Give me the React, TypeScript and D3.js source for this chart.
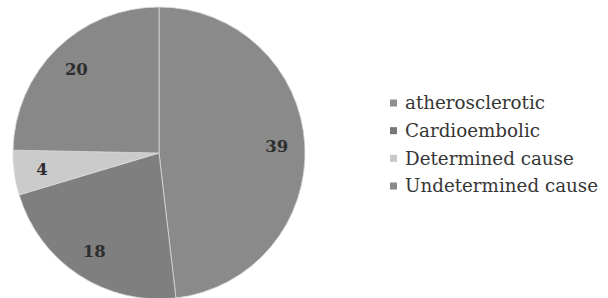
import React from "react";
import * as d3 from "d3";

const categories = ["atherosclerotic", "Cardioembolic", "Determined cause", "Undetermined cause"];
const values = [39, 18, 4, 20];
const sliceColors = ["#8a8a8a", "#7f7f7f", "#cbcbcb", "#888888"];
const legendColors = ["#8e8e8e", "#777777", "#c8c8c8", "#8a8a8a"];

export default function App() {
  const W = 608, H = 298;
  const cx = 159, cy = 153, R = 146;
  const pie = d3.pie<number>().sort(null).value((d) => d);
  const arcs = pie(values);
  const arc = d3.arc<d3.PieArcDatum<number>>().innerRadius(0).outerRadius(R);
  const labelArc = d3.arc<d3.PieArcDatum<number>>().innerRadius(118).outerRadius(118);
  const legendY = d3.scaleLinear().domain([0, 3]).range([103, 186]);
  return (
    <svg width={W} height={H} style={{ position: "absolute", left: 0, top: 0, background: "#fff" }}>
      <g transform={`translate(${cx},${cy})`}>
        {arcs.map((a, i) => (
          <path key={i} d={arc(a) || ""} fill={sliceColors[i]} stroke="#d8d8d8" strokeWidth={0.8} />
        ))}
        {arcs.map((a, i) => {
          const [x, y] = labelArc.centroid(a);
          return (
            <text key={i} x={x} y={y} dy="0.35em" textAnchor="middle" fontFamily="DejaVu Serif" fontWeight="bold" fontSize={16.5} fill="#2e2e2e">
              {values[i]}
            </text>
          );
        })}
      </g>
      {categories.map((c, i) => (
        <g key={c} transform={`translate(390,${legendY(i)})`}>
          <rect x={0} y={-3.5} width={7} height={7} fill={legendColors[i]} />
          <text x={15} y={0} dy="0.35em" fontFamily="DejaVu Serif" fontSize={18.3} fill="#363636">{c}</text>
        </g>
      ))}
    </svg>
  );
}
